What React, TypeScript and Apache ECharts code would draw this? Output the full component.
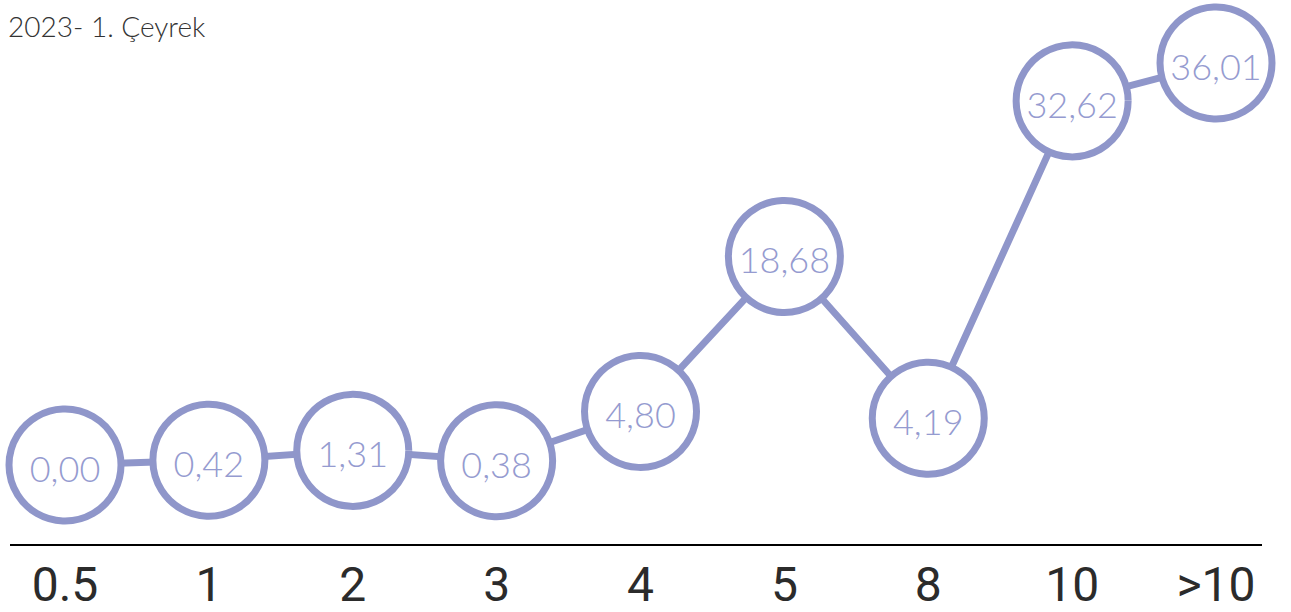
import React, { useEffect, useRef } from "react";
import * as echarts from "echarts";

const categories = ["0.5", "1", "2", "3", "4", "5", "8", "10", ">10"];
const values = [0.0, 0.42, 1.31, 0.38, 4.8, 18.68, 4.19, 32.62, 36.01];
const title = "2023- 1. Çeyrek";

export default function App() {
  const ref = useRef<HTMLDivElement>(null);
  useEffect(() => {
    document.body.style.margin = "0";
    const chart = echarts.init(ref.current!, null, { renderer: "svg" });
    const color = "#8f96ca";
    chart.setOption({
      animation: false,
      backgroundColor: "#ffffff",
      grid: {
        left: 65,
        right: 75,
        top: 18.5,
        bottom: 147,
        outerBoundsMode: "none",
        containLabel: false,
      },
      xAxis: {
        type: "category",
        data: categories,
        boundaryGap: false,
        axisLine: { show: false },
        axisTick: { show: false },
        axisLabel: {
          margin: 95,
          fontSize: 48,
          lineHeight: 48,
          fontFamily: "Roboto",
          color: "#2b2b2b",
        },
      },
      yAxis: {
        type: "value",
        min: 0,
        max: 40,
        show: false,
        splitLine: { show: false },
      },
      graphic: [
        {
          type: "text",
          left: 8,
          top: 12,
          style: {
            text: title,
            fontSize: 28,
            fontFamily: "Lato",
            fontWeight: 300,
            fill: "#333333",
          },
        },
        {
          type: "line",
          shape: { x1: 10, y1: 545, x2: 1262, y2: 545 },
          style: { stroke: "#000000", lineWidth: 2 },
        },
      ],
      series: [
        {
          type: "line",
          data: values,
          symbol: "circle",
          symbolSize: 112,
          clip: false,
          lineStyle: { color, width: 7 },
          itemStyle: { color: "#ffffff", borderColor: color, borderWidth: 7 },
          label: {
            show: true,
            position: "inside",
            offset: [0, 3],
            fontSize: 36,
            fontFamily: "Lato",
            fontWeight: 300,
            color: "#959bd0",
            formatter: (p: any) => Number(p.value).toFixed(2).replace(".", ","),
          },
        },
      ],
    });
    return () => chart.dispose();
  }, []);
  return <div ref={ref} style={{ width: 1291, height: 612 }} />;
}
